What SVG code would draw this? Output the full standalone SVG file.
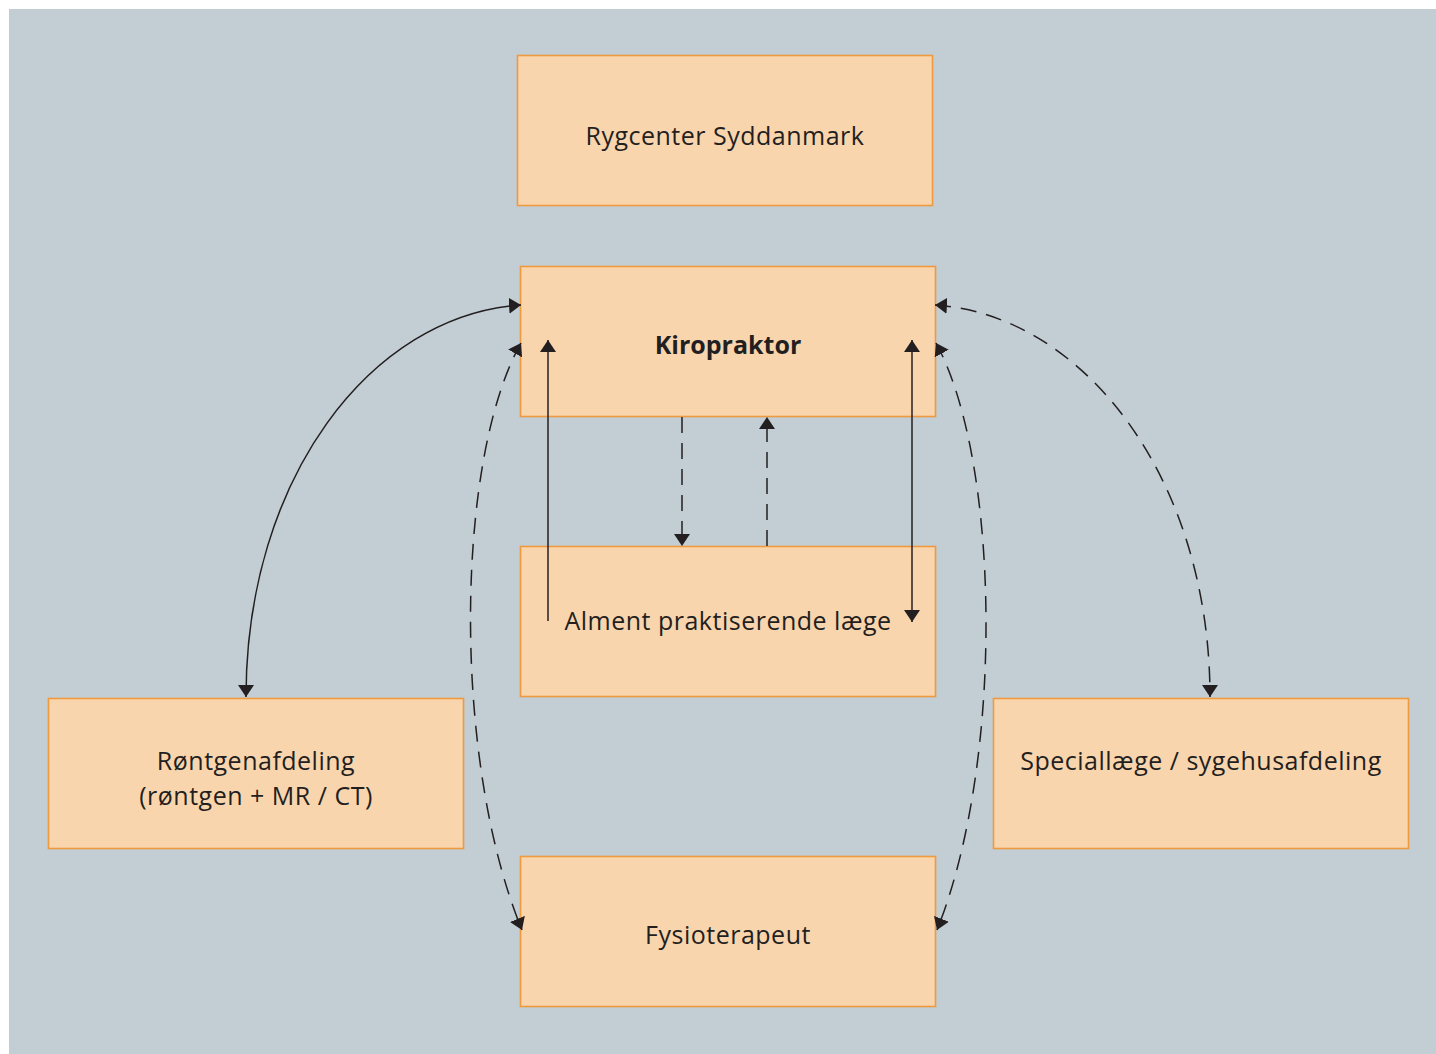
<svg xmlns="http://www.w3.org/2000/svg" width="1436" height="1054" viewBox="0 0 1436 1054">
<defs>
<style>
.box{fill:#f9d5ae;stroke:#ef9a3e;stroke-width:1.6}
.t{font-family:"Open Sans","Noto Sans",sans-serif;font-size:25px;letter-spacing:0.5px;fill:#231f20;text-anchor:middle}
.b{font-weight:bold;letter-spacing:0}
.c{fill:none;stroke:#231f20;stroke-width:1.5}
.d{stroke-dasharray:16 10}
</style>
<marker id="ah" viewBox="0 0 12 16" refX="12" refY="8" markerWidth="12" markerHeight="16" markerUnits="userSpaceOnUse" orient="auto-start-reverse">
<path d="M0,0 L12,8 L0,16 z" fill="#231f20"/>
</marker>
</defs>
<rect x="0" y="0" width="1436" height="1054" fill="#ffffff"/>
<rect x="9" y="9" width="1427" height="1045" fill="#c2cdd4"/>

<g id="rygcenter"><rect class="box" x="517.5" y="55.5" width="415" height="150"/><text class="t" x="725" y="145">Rygcenter Syddanmark</text></g>
<g id="kiropraktor"><rect class="box" x="520.5" y="266.5" width="415" height="150"/><text class="t b" x="728" y="354">Kiropraktor</text></g>
<g id="alment"><rect class="box" x="520.5" y="546.5" width="415" height="150"/><text class="t" x="728" y="630">Alment praktiserende læge</text></g>
<g id="rontgen"><rect class="box" x="48.5" y="698.5" width="415" height="150"/><text class="t" x="256" y="770">Røntgenafdeling</text><text class="t" x="256" y="805">(røntgen + MR / CT)</text></g>
<g id="speciallaege"><rect class="box" x="993.5" y="698.5" width="415" height="150"/><text class="t" x="1201" y="770">Speciallæge / sygehusafdeling</text></g>
<g id="fysioterapeut"><rect class="box" x="520.5" y="856.5" width="415" height="150"/><text class="t" x="728" y="944">Fysioterapeut</text></g>

<g id="connectors">
<path class="c" d="M246,697 C246,480 370,315 521,305" marker-start="url(#ah)" marker-end="url(#ah)"/>
<path class="c d" d="M521,343 C455,460 452,760 522,930" marker-start="url(#ah)" marker-end="url(#ah)"/>
<path class="c d" d="M936,343 C1000,460 1005,760 937,930" marker-start="url(#ah)" marker-end="url(#ah)"/>
<path class="c d" d="M935,305 C1085,315 1210,480 1210,697" marker-start="url(#ah)" marker-end="url(#ah)"/>
<path class="c" d="M548,621 L548,340" marker-end="url(#ah)"/>
<path class="c" d="M912,340 L912,622" marker-start="url(#ah)" marker-end="url(#ah)"/>
<path class="c d" d="M682,417 L682,546" marker-end="url(#ah)"/>
<path class="c d" d="M767,546 L767,417" marker-end="url(#ah)"/>
</g>
</svg>
